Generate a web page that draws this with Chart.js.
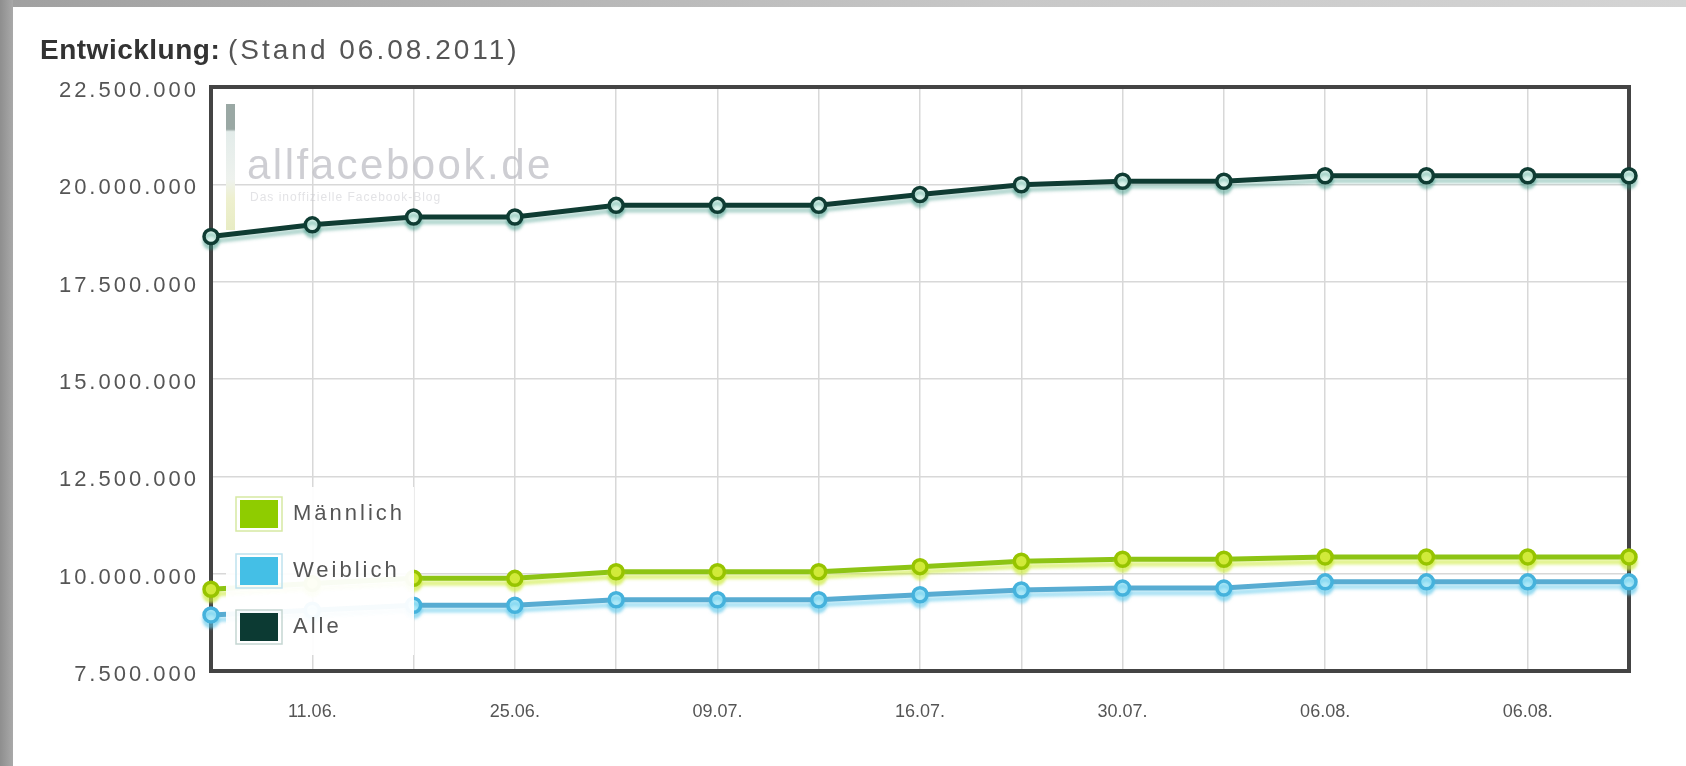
<!DOCTYPE html>
<html lang="de">
<head>
<meta charset="UTF-8">
<title>Entwicklung</title>
<script src="https://cdn.jsdelivr.net/npm/chart.js"></script>
<style>
  body { margin: 0; background: #fff; font-family: "Liberation Sans", Arial, sans-serif; }
  #wrap { position: absolute; left: 0; top: 0; width: 1686px; height: 766px; }
  #title { position: absolute; left: 40px; top: 34px; font-size: 28px; color: #555; }
  #title b { color: #333; font-weight: bold; letter-spacing: 0.5px; }
  #title span { letter-spacing: 3px; }
  .strip-left { position: absolute; left: 0; top: 0; width: 13px; height: 766px; background: linear-gradient(to right, #8e8e8e, #a9a9a9); }
  .strip-top { position: absolute; left: 0; top: 0; width: 1686px; height: 7px; background: linear-gradient(to right, #a0a0a0, #c8c8c8 60%, #d4d4d4); }
</style>
</head>
<body>
<div id="wrap"><canvas id="chart"></canvas></div>
<div id="title"><b>Entwicklung:</b> <span>(Stand 06.08.2011)</span></div>
<div class="strip-top"></div>
<div class="strip-left"></div>

<script>
// Daten
const dates = ['', '11.06.', '', '25.06.', '', '09.07.', '', '16.07.', '', '30.07.', '', '06.08.', '', '06.08.', ''];
const maennlich = [9600000, 9750000, 9880000, 9880000, 10050000, 10050000, 10050000, 10180000, 10320000, 10370000, 10370000, 10430000, 10430000, 10430000, 10430000];
const weiblich = [8940000, 9060000, 9190000, 9190000, 9330000, 9330000, 9330000, 9460000, 9580000, 9630000, 9630000, 9790000, 9790000, 9790000, 9790000];
const alle = [18660000, 18960000, 19160000, 19160000, 19460000, 19460000, 19460000, 19740000, 19990000, 20080000, 20080000, 20220000, 20220000, 20220000, 20220000];
const yTicks = { min: 7500000, max: 22500000, step: 2500000 };

const fmt = v => String(v).replace(/\B(?=(\d{3})+(?!\d))/g, '.');
const FONT = '"Liberation Sans", Arial, sans-serif';

// y-Beschriftung breiter gesperrt als die x-Beschriftung
const linearLabels = Chart.LinearScale.prototype.drawLabels;
Chart.LinearScale.prototype.drawLabels = function (area) {
    this.ctx.save();
    this.ctx.letterSpacing = '3px';
    linearLabels.call(this, area);
    this.ctx.restore();
};

// Rahmen, Wasserzeichen, Schatten der Linien, Legende
const deco = {
    id: 'deco',
    beforeDatasetsDraw(chart) {
        const { ctx, chartArea: a } = chart;
        ctx.save();
        ctx.letterSpacing = '2.5px';
        ctx.font = '42px ' + FONT;
        ctx.fillStyle = 'rgba(185,185,192,0.7)';
        ctx.textBaseline = 'alphabetic';
        ctx.fillText('allfacebook.de', 247, 179);
        ctx.letterSpacing = '1px';
        ctx.font = '12px ' + FONT;
        ctx.fillStyle = 'rgba(200,200,205,0.5)';
        ctx.fillText('Das inoffizielle Facebook-Blog', 250, 201);
        const g = ctx.createLinearGradient(0, 104, 0, 230);
        g.addColorStop(0, '#9aa8a4');
        g.addColorStop(0.2, '#9aa8a4');
        g.addColorStop(0.22, '#e3ecea');
        g.addColorStop(0.6, '#eef2ee');
        g.addColorStop(0.75, '#eef0cf');
        g.addColorStop(1, '#e8ecc4');
        ctx.fillStyle = g;
        ctx.fillRect(226, 104, 9, 126);
        ctx.strokeStyle = '#444';
        ctx.lineWidth = 4;
        ctx.strokeRect(a.left, a.top, a.right - a.left, a.bottom - a.top);
        ctx.restore();
    },
    beforeDatasetDraw(chart, args) {
        const ds = chart.data.datasets[args.index];
        chart.ctx.save();
        chart.ctx.shadowColor = ds.glow;
        chart.ctx.shadowOffsetY = 5;
        chart.ctx.shadowBlur = 3;
    },
    afterDatasetDraw(chart) { chart.ctx.restore(); },
    afterDatasetsDraw(chart) {
        const ctx = chart.ctx;
        ctx.save();
        ctx.fillStyle = 'rgba(255,255,255,0.95)';
        ctx.fillRect(226, 487, 188, 168);
        const rows = [497, 554, 610];
        chart.data.datasets.forEach((ds, i) => {
            const y = rows[i];
            ctx.strokeStyle = ds.frame;
            ctx.lineWidth = 1.5;
            ctx.strokeRect(236, y, 46, 34);
            ctx.fillStyle = ds.legendColor;
            ctx.fillRect(240, y + 3, 38, 28);
            ctx.letterSpacing = '3px';
            ctx.font = '22px ' + FONT;
            ctx.fillStyle = '#555';
            ctx.textBaseline = 'middle';
            ctx.fillText(ds.label, 293, y + 17);
        });
        ctx.restore();
    }
};

new Chart(document.getElementById('chart'), {
    type: 'line',
    data: {
        labels: dates,
        datasets: [
            { label: 'Männlich', data: maennlich, borderColor: '#8dc414', backgroundColor: '#d3ea3a', pointBorderColor: '#97c400',
              glow: 'rgba(205,235,60,0.6)', legendColor: '#8fcc00', frame: '#d6e9a3' },
            { label: 'Weiblich', data: weiblich, borderColor: '#58acd2', backgroundColor: '#aee9f8', pointBorderColor: '#45b2dc',
              glow: 'rgba(90,200,235,0.5)', legendColor: '#44bfe6', frame: '#bfe2ee' },
            { label: 'Alle', data: alle, borderColor: '#0f3c33', backgroundColor: '#def5ee', pointBorderColor: '#0f3c33',
              glow: 'rgba(40,140,120,0.35)', legendColor: '#0c3a33', frame: '#c5d6d2' }
        ]
    },
    options: {
        responsive: true,
        maintainAspectRatio: false,
        animation: false,
        layout: { padding: { top: 87, right: 57, left: 0, bottom: 0 } },
        datasets: { line: { borderWidth: 5, pointRadius: 7, pointBorderWidth: 3.5, tension: 0, clip: false, fill: false } },
        plugins: { legend: { display: false }, tooltip: { enabled: false } },
        scales: {
            x: {
                grid: { color: '#d8d8d8', lineWidth: 1.5, drawTicks: false },
                border: { display: false },
                ticks: { autoSkip: false, maxRotation: 0, padding: 30, color: '#555', font: { family: FONT, size: 18 } },
                afterFit(s) { s.height = 95; }
            },
            y: {
                min: yTicks.min, max: yTicks.max,
                grid: { color: '#d8d8d8', lineWidth: 1.5, drawTicks: false },
                border: { display: false },
                ticks: { stepSize: yTicks.step, padding: 12, labelOffset: 4, color: '#555', font: { family: FONT, size: 22 }, callback: v => fmt(v) },
                afterFit(s) { s.width = 211; }
            }
        }
    },
    plugins: [deco]
});
</script>
</body>
</html>
